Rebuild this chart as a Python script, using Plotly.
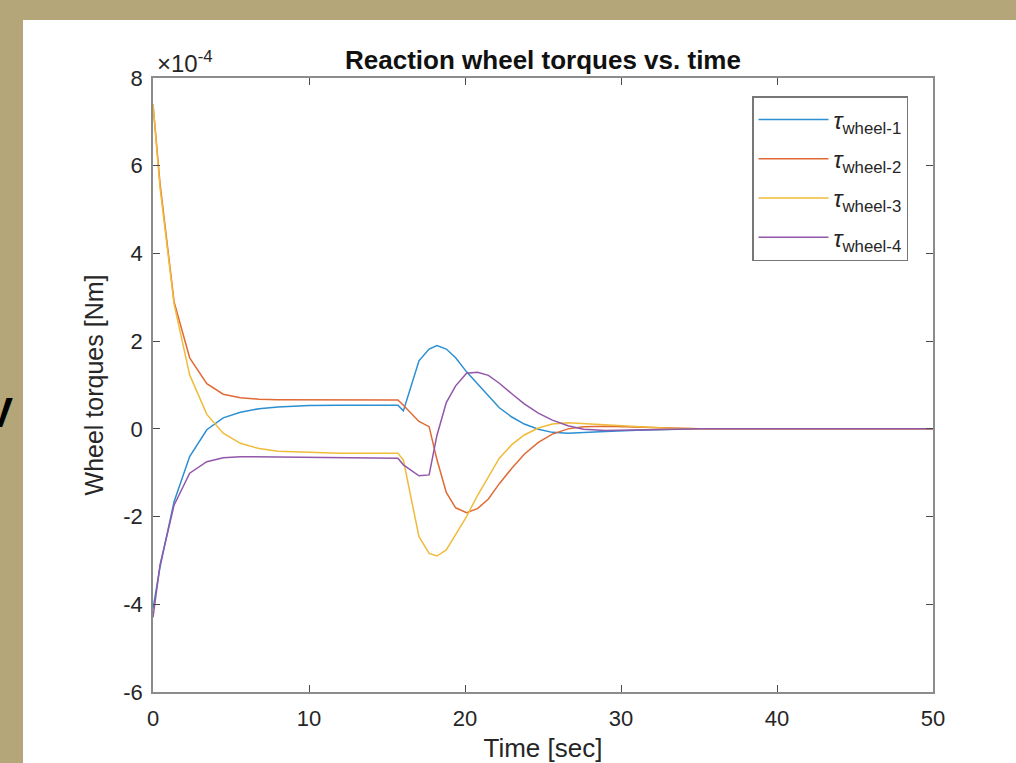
import plotly.graph_objects as go

# ---- data (torques in units of 1e-4 Nm) ----
time_s = [0, 0.45, 1.35, 2.35, 3.45, 4.5, 5.6, 6.8, 8.0, 10, 12, 14, 15.7, 16.05,
          17.05, 17.7, 18.2, 18.8, 19.4, 20.1, 20.8, 21.5, 22.2, 23.0, 23.8, 24.7,
          25.6, 26.6, 27.6, 29, 31, 33, 35, 40, 50]

wheel_1 = [-4.1, -3.15, -1.66, -0.63, -0.02, 0.25, 0.38, 0.46, 0.50, 0.53, 0.54, 0.54, 0.54, 0.41,
           1.55, 1.82, 1.90, 1.82, 1.62, 1.30, 1.02, 0.74, 0.48, 0.27, 0.11, -0.01,
           -0.08, -0.10, -0.09, -0.06, -0.03, -0.01, 0.0, 0.0, 0.0]

wheel_2 = [7.4, 5.6, 2.9, 1.62, 1.03, 0.79, 0.71, 0.675, 0.665, 0.66, 0.66, 0.66, 0.66, 0.54,
           0.17, 0.05, -0.70, -1.45, -1.80, -1.91, -1.82, -1.60, -1.25, -0.90, -0.58, -0.31,
           -0.12, 0.0, 0.05, 0.06, 0.04, 0.02, 0.0, 0.0, 0.0]

wheel_3 = [7.4, 5.5, 2.85, 1.23, 0.33, -0.10, -0.33, -0.45, -0.51, -0.54, -0.555, -0.556, -0.556, -0.71,
           -2.46, -2.84, -2.90, -2.76, -2.42, -2.00, -1.52, -1.08, -0.67, -0.36, -0.14, 0.02,
           0.11, 0.14, 0.12, 0.08, 0.04, 0.015, 0.0, 0.0, 0.0]

wheel_4 = [-4.3, -3.1, -1.74, -1.01, -0.75, -0.66, -0.635, -0.64, -0.65, -0.66, -0.665, -0.67, -0.67, -0.82,
           -1.07, -1.05, -0.15, 0.60, 0.98, 1.27, 1.29, 1.22, 1.04, 0.80, 0.57, 0.36,
           0.20, 0.07, -0.01, -0.04, -0.03, -0.01, 0.0, 0.0, 0.0]

series_names = ["<i>τ</i><sub>wheel-1</sub>", "<i>τ</i><sub>wheel-2</sub>",
                "<i>τ</i><sub>wheel-3</sub>", "<i>τ</i><sub>wheel-4</sub>"]

x_ticks = [0, 10, 20, 30, 40, 50]
y_ticks = [-6, -4, -2, 0, 2, 4, 6, 8]
y_tick_labels = ["-6", "-4", "-2", "0", "2", "4", "6", "8"]

# ---- styling ----
colors = ["#2b8fd2", "#e06a36", "#f0bb3a", "#9257a9"]
FONT = "Liberation Sans, Arial, Helvetica, sans-serif"
W, H = 1016, 763
L, R, T, B = 153, 1016 - 933, 78, 763 - 692
pw, ph = W - L - R, H - T - B


def px_x(p):
    return (p - L) / pw


def px_y(p):
    return (H - B - p) / ph


fig = go.Figure()
for i, (name, ys, c) in enumerate(zip(series_names, [wheel_1, wheel_2, wheel_3, wheel_4], colors)):
    fig.add_trace(go.Scatter(x=time_s, y=ys, mode="lines", name=name, legendgroup=f"g{i}",
                             line=dict(color=c, width=1.5)))

axis_common = dict(showgrid=False, zeroline=False, showline=True, linecolor="#8c8c8c",
                   linewidth=1.6, mirror="ticks", ticks="inside", ticklen=7,
                   tickcolor="#4a4a4a", tickwidth=1,
                   tickfont=dict(family=FONT, size=22, color="#262626"))

fig.update_xaxes(range=[0, 50], tickvals=x_ticks, ticklabelstandoff=6, **axis_common,
                 title=dict(text="Time [sec]", font=dict(family=FONT, size=26, color="#262626"),
                            standoff=10))
fig.update_yaxes(range=[-6, 8], tickvals=y_ticks, ticktext=y_tick_labels, ticklabelstandoff=4,
                 **axis_common,
                 title=dict(text="Wheel torques [Nm]", font=dict(family=FONT, size=25, color="#262626"),
                            standoff=12))

fig.update_layout(
    width=W, height=H,
    margin=dict(l=L, r=R, t=T, b=B, autoexpand=False),
    paper_bgcolor="#b5a67a",
    plot_bgcolor="white",
    title=dict(text="<b>Reaction wheel torques vs. time</b>",
               font=dict(family=FONT, size=26, color="#111111"),
               x=0.5, xref="paper", xanchor="center",
               y=1, yref="paper", yanchor="bottom", pad=dict(b=9)),
    legend=dict(x=px_x(752), y=px_y(96), xanchor="left", yanchor="top",
                bgcolor="white", bordercolor="#777777", borderwidth=1.5,
                font=dict(family=FONT, size=24, color="#262626"),
                itemwidth=70, tracegroupgap=5),
    showlegend=True,
    shapes=[dict(type="rect", xref="paper", yref="paper", layer="below",
                 x0=px_x(23), x1=px_x(1030), y0=px_y(780), y1=px_y(20),
                 fillcolor="white", line=dict(width=0))],
    annotations=[
        dict(text="×10<sup>-4</sup>", xref="paper", yref="paper",
             x=px_x(155), y=px_y(79), xanchor="left", yanchor="bottom", showarrow=False,
             font=dict(family=FONT, size=24, color="#262626")),
        dict(text="<b>V</b>", xref="paper", yref="paper",
             x=px_x(15), y=px_y(412), xanchor="right", yanchor="middle", showarrow=False,
             font=dict(family=FONT, size=42, color="black")),
    ],
)

fig.write_html("out.html", config={"displayModeBar": False},
               post_script="document.body.style.margin='0';document.body.style.overflow='hidden';")
